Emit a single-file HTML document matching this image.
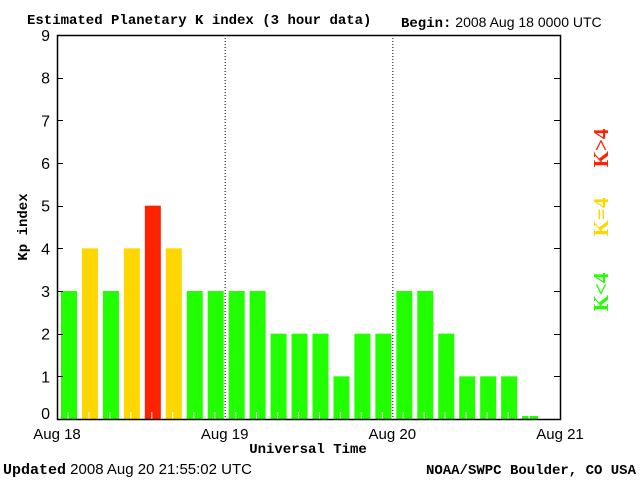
<!DOCTYPE html>
<html><head><meta charset="utf-8"><style>
body{margin:0;background:#fff;width:640px;height:480px;overflow:hidden}
svg text{font-family:"Liberation Sans",sans-serif}
.t{font-family:"Liberation Mono",monospace;font-weight:bold}
.lg{font-family:"Liberation Serif",serif;font-weight:bold}
</style></head><body>
<svg width="640" height="480">
<text class="t" x="27" y="24" font-size="14">Estimated Planetary K index (3 hour data)</text>
<text x="401" y="27" font-size="14"><tspan class="t">Begin:</tspan> 2008 Aug 18 0000 UTC</text>
<g id="plot"></g>
<text class="t" font-size="14" transform="translate(27,227) rotate(-90)" text-anchor="middle">Kp index</text>
<text class="t" x="308" y="453" font-size="14" text-anchor="middle">Universal Time</text>
<text x="3" y="474" font-size="15"><tspan class="t">Updated</tspan> 2008 Aug 20 21:55:02 UTC</text>
<text class="t" x="636" y="474" font-size="14" text-anchor="end">NOAA/SWPC Boulder, CO USA</text>
<text class="lg" font-size="21" fill="#ff2200" transform="translate(608,148) rotate(-90)" text-anchor="middle">K&gt;4</text>
<text class="lg" font-size="21" fill="#ffd700" transform="translate(608,217) rotate(-90)" text-anchor="middle">K=4</text>
<text class="lg" font-size="21" fill="#22ff00" transform="translate(608,292) rotate(-90)" text-anchor="middle">K&lt;4</text>
</svg>
<script>
const kpValues=[3,4,3,4,5,4,3,3,3,3,2,2,2,1,2,2,3,3,2,1,1,1,0.07];
const yTicks=[0,1,2,3,4,5,6,7,8,9];
const dayLabels=["Aug 18","Aug 19","Aug 20","Aug 21"];
const NS="http://www.w3.org/2000/svg";
const X0=57,X1=560,Y0=419,Y1=35,SLOTS=24;
const xs=i=>X0+(X1-X0)*i/SLOTS;
const ys=v=>Y0-(Y0-Y1)*v/9;
const g=document.getElementById('plot');
function mk(t,a){const e=document.createElementNS(NS,t);for(const k in a)e.setAttribute(k,a[k]);g.appendChild(e);return e;}
kpValues.forEach((v,i)=>{
 const c=v>4?'#ff2200':(v>=4?'#ffd700':'#22ff00');
 const r=mk('rect',{x:xs(i)+4,y:ys(v),width:16,height:Y0-ys(v),fill:c});
 
 
 mk('line',{x1:xs(i+0.5)+0.5,x2:xs(i+0.5)+0.5,y1:Y0,y2:Y0-7,stroke:'#fff','stroke-width':1});
});
[1,2].forEach(d=>{
 const l=mk('line',{x1:xs(d*8)+0.5,x2:xs(d*8)+0.5,y1:Y1,y2:Y0,stroke:'#000','stroke-dasharray':'1,2'});
 
 
});
const fr=mk('rect',{x:X0+0.5,y:Y1+0.5,width:X1-X0,height:Y0-Y1,fill:'none',stroke:'#000','stroke-width':1.5});


yTicks.forEach(t=>{
 const y=Math.round(ys(t))+0.5;
 mk('line',{x1:X0,x2:X0+6,y1:y,y2:y,stroke:'#000'});
 mk('line',{x1:X1-6,x2:X1,y1:y,y2:y,stroke:'#000'});
 const tx=mk('text',{x:50,y:Math.min(ys(t)+6,419),'font-size':16,'text-anchor':'end'});
 tx.textContent=t;
 
 
});
dayLabels.forEach((d,i)=>{
 const tx=mk('text',{x:xs(i*8),y:439,'font-size':15,'text-anchor':'middle'});
 tx.textContent=d;
 
 
});
</script>
</body></html>
